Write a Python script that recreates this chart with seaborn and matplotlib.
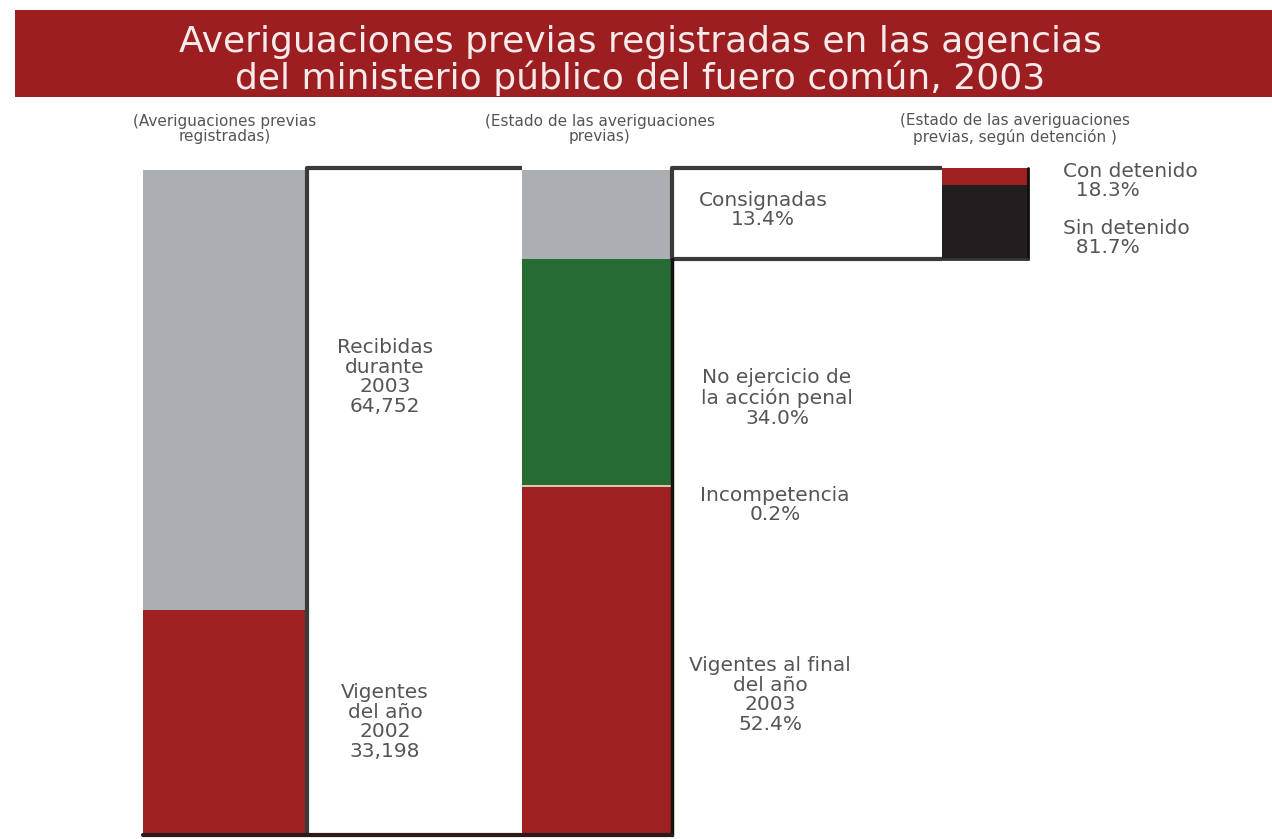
import numpy as np
import pandas as pd
import matplotlib
matplotlib.use("Agg")
import matplotlib.pyplot as plt
from matplotlib.patches import Rectangle
import seaborn as sns

sns.set_theme(style="white")
plt.rcParams["font.family"] = ["DejaVu Sans"]

# datos
registradas_labels = ["Vigentes del año 2002", "Recibidas durante 2003"]
registradas_values = [33198, 64752]

estado_labels = ["Vigentes al final del año 2003", "Incompetencia",
                 "No ejercicio de la acción penal", "Consignadas"]
estado_pct = [52.4, 0.2, 34.0, 13.4]

detencion_labels = ["Sin detenido", "Con detenido"]
detencion_pct = [81.7, 18.3]

# colores
GRIS = "#acafb2"
ROJO = "#9e2021"
VERDE = "#266b34"
BEIGE = "#d8c8a6"
NEGRO = "#221e1f"
TEXTO = "#555555"

W, H = 1272, 839
TOP, BOT = 168, 835

fig = plt.figure(figsize=(W / 100, H / 100), dpi=100)


def px_axes(x0, y0, x1, y1):
    return fig.add_axes([x0 / W, 1 - y1 / H, (x1 - x0) / W, (y1 - y0) / H])


def stacked(ax, labels, values, colors):
    cum = np.cumsum(values)
    df = pd.DataFrame({"col": "a", "seg": labels, "cum": cum})
    sns.barplot(data=df, x="col", y="cum", hue="seg", hue_order=labels[::-1],
                palette=dict(zip(labels, colors)), dodge=False, width=1,
                saturation=1, errorbar=None, legend=False, linewidth=0, ax=ax)
    ax.set_xlim(-0.5, 0.5)
    ax.set_ylim(0, cum[-1])
    ax.axis("off")


ax1 = px_axes(143, TOP + 2, 307, BOT)
stacked(ax1, registradas_labels, registradas_values, [ROJO, GRIS])

ax2 = px_axes(522, TOP + 2, 672, BOT)
stacked(ax2, estado_labels, estado_pct, [ROJO, BEIGE, VERDE, GRIS])

# la barra de detencion ocupa el tramo de "Consignadas"
cons_bottom = TOP + 2 + (BOT - TOP - 2) * estado_pct[-1] / sum(estado_pct)
ax3 = px_axes(942, TOP, 1028, cons_bottom)
stacked(ax3, detencion_labels, detencion_pct, [NEGRO, ROJO])

# capa para textos y conectores
ov = fig.add_axes([0, 0, 1, 1])
ov.set_xlim(0, W)
ov.set_ylim(H, 0)
ov.axis("off")
ov.patch.set_alpha(0)
ov.set_zorder(5)

ov.add_patch(Rectangle((15, 10), W - 15, 87, color="#9c1e21", lw=0))
ov.text(640, 42, "Averiguaciones previas registradas en las agencias",
        ha="center", va="center", fontsize=26, color="#f7eaea")
ov.text(640, 78, "del ministerio público del fuero común, 2003",
        ha="center", va="center", fontsize=26, color="#f7eaea")

hdr = dict(ha="center", va="center", fontsize=11, color=TEXTO, linespacing=1.05)
ov.text(225, 129, "(Averiguaciones previas\nregistradas)", **hdr)
ov.text(600, 129, "(Estado de las averiguaciones\nprevias)", **hdr)
ov.text(1015, 129, "(Estado de las averiguaciones\nprevias, según detención )", **hdr)

# conectores
linea = dict(color="#3a3a3a", lw=3, solid_capstyle="butt")
ov.plot([307, 307, 522], [BOT, TOP, TOP], **linea)
ov.plot([942, 672, 672, 942], [TOP, TOP, cons_bottom, cons_bottom], **linea)
ov.plot([672, 672], [cons_bottom, BOT], color="#1a1010", lw=2.5)
ov.plot([1028, 1028], [TOP, cons_bottom], color="#111111", lw=2)
ov.plot([942, 1028], [cons_bottom, cons_bottom], color="#333333", lw=2)
ov.plot([143, 672], [BOT, BOT], color="#2a1a1a", lw=3)

lab = dict(ha="center", va="center", fontsize=14.5, color=TEXTO, linespacing=1.05)
ov.text(385, 377, "Recibidas\ndurante\n2003\n{:,}".format(registradas_values[1]), **lab)
ov.text(385, 722, "Vigentes\ndel año\n2002\n{:,}".format(registradas_values[0]), **lab)
ov.text(763, 210, "Consignadas\n{:.1f}%".format(estado_pct[3]), **lab)
ov.text(777, 398, "No ejercicio de\nla acción penal\n{:.1f}%".format(estado_pct[2]), **lab)
ov.text(775, 505, "Incompetencia\n{:.1f}%".format(estado_pct[1]), **lab)
ov.text(770, 695, "Vigentes al final\ndel año\n2003\n{:.1f}%".format(estado_pct[0]), **lab)

lab2 = dict(ha="left", va="center", fontsize=14.5, color=TEXTO, linespacing=1.05)
ov.text(1063, 181, "Con detenido\n  {:.1f}%".format(detencion_pct[1]), **lab2)
ov.text(1063, 238, "Sin detenido\n  {:.1f}%".format(detencion_pct[0]), **lab2)

fig.savefig("out.png", dpi=100)
